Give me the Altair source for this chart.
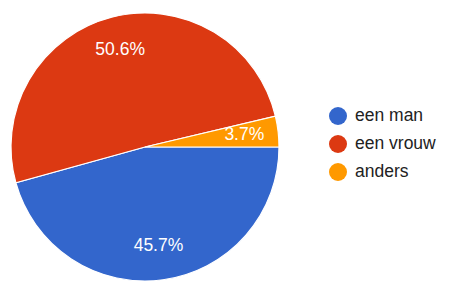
import math
import altair as alt
import pandas as pd

categories = ["een man", "een vrouw", "anders"]
shares = [45.7, 50.6, 3.7]
labels = ["45.7%", "50.6%", "3.7%"]
colors = ["#3366cc", "#dc3912", "#ff9900"]

df = pd.DataFrame({
    "cat": categories,
    "value": shares,
    "label": labels,
    "ord": list(range(len(categories))),
})

FONT = "Liberation Sans"

theta = alt.Theta("value:Q", stack=True,
                  scale=alt.Scale(range=[math.pi / 2, math.pi / 2 + 2 * math.pi]))
color = alt.Color("cat:N", title=None,
                  scale=alt.Scale(domain=categories, range=colors),
                  legend=alt.Legend(orient="none", legendX=329, legendY=107,
                                    symbolType="circle", symbolSize=324,
                                    symbolStrokeWidth=0, labelFontSize=17.5,
                                    labelColor="#222222", labelFont=FONT,
                                    labelOffset=8, rowPadding=10, padding=0))
order = alt.Order("ord:Q")

base = alt.Chart(df).encode(theta=theta, order=order,
                            x=alt.value(145), y=alt.value(147))

pie = base.mark_arc(outerRadius=134, stroke="white", strokeWidth=1.2).encode(color=color)
text = base.mark_text(radius=100, fontSize=17.5, font=FONT, fill="white",
                      align="center", baseline="middle").encode(text="label:N")

chart = alt.layer(pie, text).properties(
    width=464, height=296, padding=0, background="white",
    autosize=alt.AutoSizeParams(type="none")
).configure_view(stroke=None)

chart.save("out.html", embed_options={"renderer": "svg", "actions": False})
